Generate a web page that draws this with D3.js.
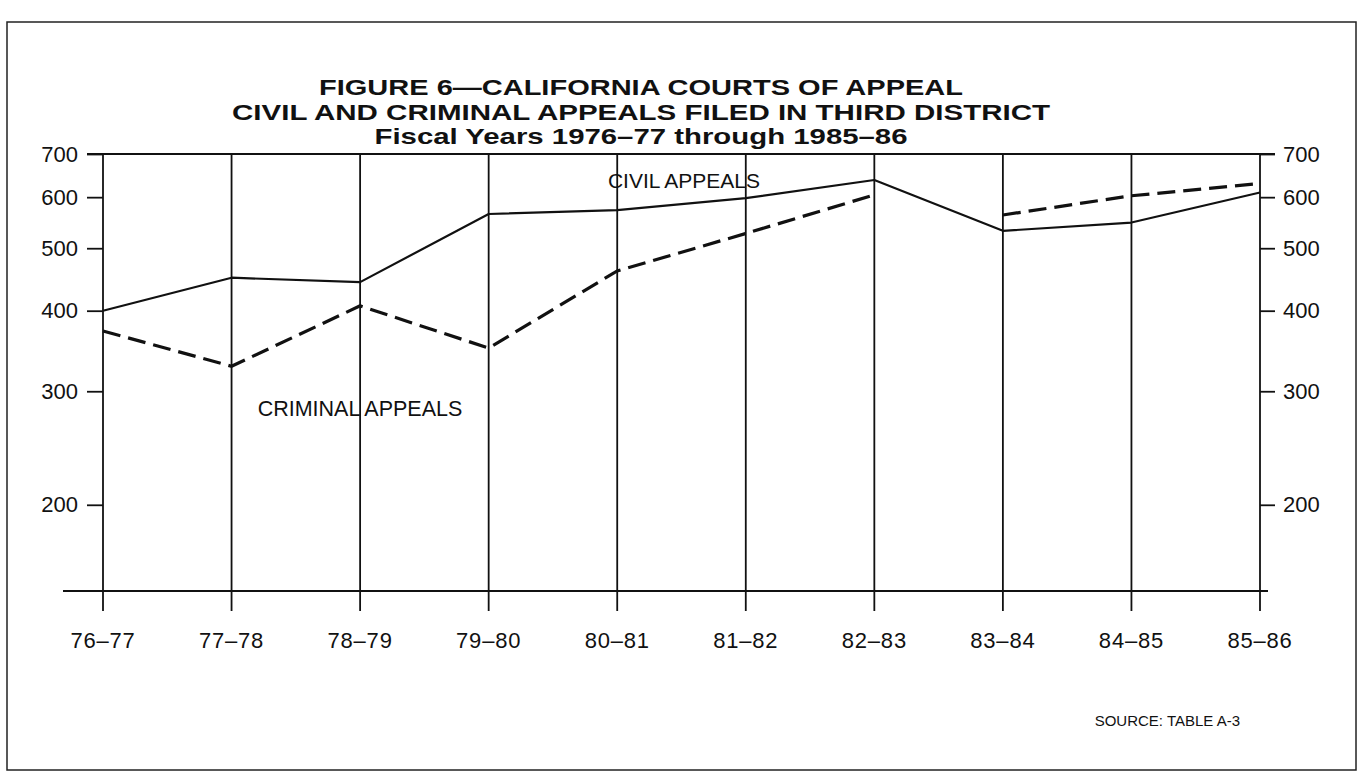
<!DOCTYPE html>
<html>
<head>
<meta charset="utf-8">
<script src="https://cdn.jsdelivr.net/npm/d3@7"></script>
<style>
  body { margin: 0; background: #fff; }
  text { font-family: "Liberation Sans", Arial, Helvetica, sans-serif; fill: #111; }
</style>
</head>
<body>
<div id="chart"></div>
<script>
"use strict";

// fiscal years on the x axis
const years = ["76-77", "77-78", "78-79", "79-80", "80-81",
  "81-82", "82-83", "83-84", "84-85", "85-86"];
const yearLabels = ["76–77", "77–78", "78–79", "79–80", "80–81",
  "81–82", "82–83", "83–84", "84–85", "85–86"];

// appeals filed
const civilAppeals = [400, 450, 443, 565, 573, 598, 638, 532, 548, 610];
const criminalAppeals = [372, 328, 407, 350, 461, 527, 605, 563, 603, 630];
// the dashed line is not drawn between these two years
const criminalBreak = ["82-83", "83-84"];

const yTicks = [700, 600, 500, 400, 300, 200];
const yFloor = 147; // bottom rule of the semi-log grid

const titleLines = [
  "FIGURE 6—CALIFORNIA COURTS OF APPEAL",
  "CIVIL AND CRIMINAL APPEALS FILED IN THIRD DISTRICT",
  "Fiscal Years 1976–77 through 1985–86"
];

const W = 1358, H = 783;
const plot = { left: 103, right: 1260, top: 154, bottom: 591 };

const svg = d3.select("#chart").append("svg")
  .attr("width", W)
  .attr("height", H);

// frame
svg.append("rect")
  .attr("x", 7).attr("y", 22)
  .attr("width", 1349).attr("height", 748)
  .attr("fill", "none")
  .attr("stroke", "#222")
  .attr("stroke-width", 1.5);

const x = d3.scalePoint()
  .domain(years)
  .range([plot.left, plot.right]);

const y = d3.scaleLog()
  .domain([yFloor, 700])
  .range([plot.bottom, plot.top]);

// titles
const titleY = [87, 112, 136];
const titleW = [644, 818, 533];
svg.append("g").selectAll("text")
  .data(titleLines)
  .join("text")
  .attr("x", 641)
  .attr("y", (d, i) => titleY[i] + 8)
  .attr("text-anchor", "middle")
  .attr("font-weight", "bold")
  .attr("font-size", 22)
  .attr("textLength", (d, i) => titleW[i])
  .attr("lengthAdjust", "spacingAndGlyphs")
  .text(d => d);

const grid = svg.append("g").attr("stroke", "#111").attr("fill", "none");

// top rule with the 700 ticks folded in
grid.append("line")
  .attr("x1", plot.left - 16).attr("x2", plot.right + 15)
  .attr("y1", y(700)).attr("y2", y(700))
  .attr("stroke-width", 2);

// bottom rule
grid.append("line")
  .attr("x1", plot.left - 40).attr("x2", plot.right + 8)
  .attr("y1", y(yFloor)).attr("y2", y(yFloor))
  .attr("stroke-width", 2);

// year verticals, running a little below the bottom rule
grid.selectAll("line.yr")
  .data(years)
  .join("line")
  .attr("class", "yr")
  .attr("x1", d => x(d)).attr("x2", d => x(d))
  .attr("y1", y(700)).attr("y2", y(yFloor) + 20)
  .attr("stroke-width", 1.8);

// left and right value axes
const leftAxis = d3.axisLeft(y).tickValues(yTicks).tickFormat(d3.format("d"))
  .tickSize(16).tickPadding(9);
const rightAxis = d3.axisRight(y).tickValues(yTicks).tickFormat(d3.format("d"))
  .tickSize(15).tickPadding(8);

function styleAxis(g) {
  g.select(".domain").remove();
  g.selectAll(".tick line").attr("stroke", "#111").attr("stroke-width", 1.8);
  g.selectAll(".tick text")
    .attr("fill", "#111")
    .style("font-family", "'Liberation Sans', Arial, sans-serif")
    .style("font-size", "22px");
}

svg.append("g")
  .attr("transform", `translate(${plot.left},0)`)
  .call(leftAxis)
  .call(styleAxis);

svg.append("g")
  .attr("transform", `translate(${plot.right},0)`)
  .call(rightAxis)
  .call(styleAxis);

// year labels
svg.append("g").selectAll("text")
  .data(years)
  .join("text")
  .attr("x", d => x(d))
  .attr("y", y(yFloor) + 57)
  .attr("text-anchor", "middle")
  .attr("font-size", 22)
  .attr("letter-spacing", 0.8)
  .text((d, i) => yearLabels[i]);

// series lines
const line = d3.line()
  .x(d => x(d.year))
  .y(d => y(d.value));

const civil = years.map((yr, i) => ({ year: yr, value: civilAppeals[i] }));
const criminal = years.map((yr, i) => ({ year: yr, value: criminalAppeals[i] }));

svg.append("path")
  .attr("d", line(civil))
  .attr("fill", "none")
  .attr("stroke", "#111")
  .attr("stroke-width", 2.2)
  .attr("stroke-linejoin", "round");

// split the criminal series where the original leaves a gap
const cut = years.indexOf(criminalBreak[1]);
[criminal.slice(0, cut), criminal.slice(cut)].forEach(seg => {
  svg.append("path")
    .attr("d", line(seg))
    .attr("fill", "none")
    .attr("stroke", "#111")
    .attr("stroke-width", 3.2)
    .attr("stroke-dasharray", "18,8");
});

// series labels
svg.append("text")
  .attr("x", 684).attr("y", 188)
  .attr("text-anchor", "middle")
  .attr("font-size", 21)
  .text("CIVIL APPEALS");

svg.append("text")
  .attr("x", 360).attr("y", 416)
  .attr("text-anchor", "middle")
  .attr("font-size", 21.5)
  .text("CRIMINAL APPEALS");

// source note
svg.append("text")
  .attr("x", 1240).attr("y", 726)
  .attr("text-anchor", "end")
  .attr("font-size", 15)
  .text("SOURCE: TABLE A-3");
</script>
</body>
</html>
